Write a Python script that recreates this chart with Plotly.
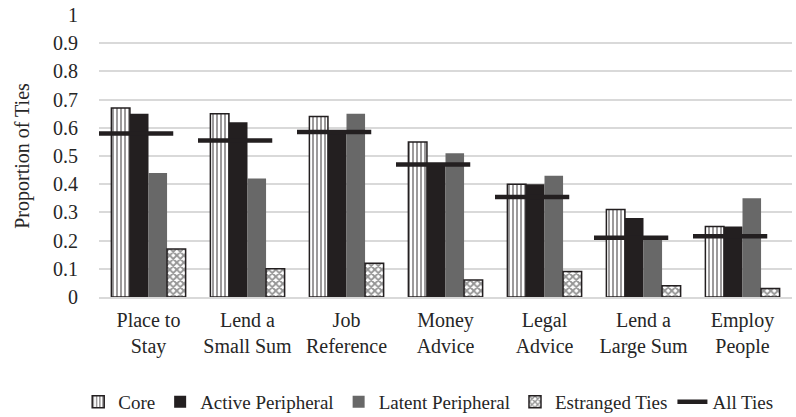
import plotly.graph_objects as go

categories = ["Place to<br>Stay", "Lend a<br>Small Sum", "Job<br>Reference", "Money<br>Advice",
              "Legal<br>Advice", "Lend a<br>Large Sum", "Employ<br>People"]
core = [0.67, 0.65, 0.64, 0.55, 0.40, 0.31, 0.25]
active = [0.65, 0.62, 0.59, 0.47, 0.40, 0.28, 0.25]
latent = [0.44, 0.42, 0.65, 0.51, 0.43, 0.21, 0.35]
estranged = [0.17, 0.10, 0.12, 0.06, 0.09, 0.04, 0.03]
all_ties = [0.58, 0.555, 0.585, 0.47, 0.355, 0.21, 0.215]
y_ticks = [0, 0.1, 0.2, 0.3, 0.4, 0.5, 0.6, 0.7, 0.8, 0.9, 1]
y_tick_labels = ["0", "0.1", "0.2", "0.3", "0.4", "0.5", "0.6", "0.7", "0.8", "0.9", "1"]

FONT = "Liberation Serif, Times New Roman, DejaVu Serif, serif"
TXT = "#262626"
FS = 20
idx = list(range(len(categories)))

fig = go.Figure()
fig.add_trace(go.Bar(
    x=idx, y=core, name="Core",
    marker=dict(color="white", line=dict(color="#231f20", width=1.5),
                pattern=dict(shape="|", fgcolor="#231f20", bgcolor="white", size=4, solidity=0.45)),
))
fig.add_trace(go.Bar(
    x=idx, y=active, name="Active Peripheral",
    marker=dict(color="#231f20", line=dict(color="#231f20", width=0)),
))
fig.add_trace(go.Bar(
    x=idx, y=latent, name="Latent Peripheral",
    marker=dict(color="#686868", line=dict(color="#686868", width=0)),
))
fig.add_trace(go.Bar(
    x=idx, y=estranged, name="Estranged Ties",
    marker=dict(color="white", line=dict(color="#231f20", width=1.5),
                pattern=dict(shape="x", fgcolor="#2a2a2a", bgcolor="white", size=5, solidity=0.6)),
))

# All Ties: horizontal dash per category
lx, ly = [], []
for i, v in zip(idx, all_ties):
    lx += [i - 0.5, i + 0.25, None]
    ly += [v, v, None]
fig.add_trace(go.Scatter(
    x=lx, y=ly, name="All Ties", mode="lines",
    line=dict(color="#231f20", width=4.5),
))

fig.update_layout(
    width=796, height=417,
    margin=dict(l=99, r=4, t=15, b=120, autoexpand=False),
    paper_bgcolor="white", plot_bgcolor="white",
    barmode="group", bargap=0.25, bargroupgap=0,
    font=dict(family=FONT, size=FS, color=TXT),
    showlegend=True,
    legend=dict(orientation="h", x=-0.03, xanchor="left", y=-0.372, yanchor="middle",
                font=dict(family=FONT, size=19, color=TXT),
                traceorder="normal", itemwidth=30, tracegroupgap=0),
)
fig.update_xaxes(
    range=[-0.5, 6.5], tickmode="array", tickvals=idx, ticktext=categories,
    showgrid=False, zeroline=False, showline=True, linecolor="#d9d9d9", linewidth=1.5,
    ticks="", ticklabelstandoff=4, tickfont=dict(family=FONT, size=FS, color=TXT), automargin=False,
)
fig.update_yaxes(
    range=[0, 1], tickmode="array", tickvals=y_ticks, ticktext=y_tick_labels,
    showgrid=True, gridcolor="#d9d9d9", gridwidth=1.5, zeroline=False, showline=False,
    ticks="", ticklabelstandoff=20, automargin=False,
    tickfont=dict(family=FONT, size=FS, color=TXT),
    title=dict(text="Proportion of Ties", font=dict(family=FONT, size=FS, color=TXT), standoff=18),
)

fig.write_html("out.html", config={"displayModeBar": False},
               post_script="document.body.style.margin='0';")
